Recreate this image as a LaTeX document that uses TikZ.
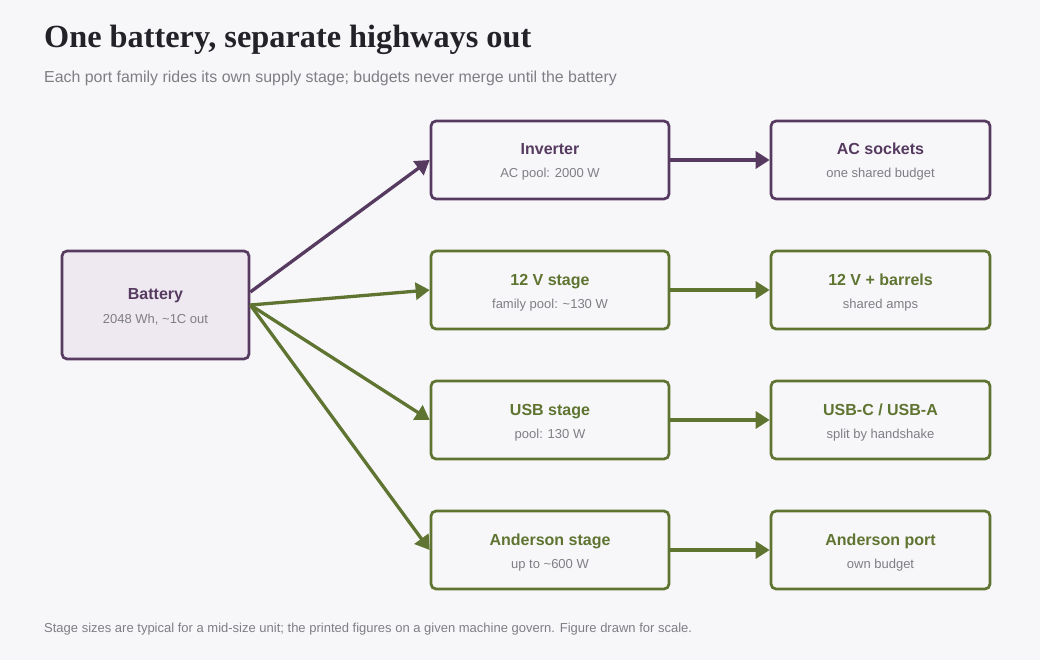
\documentclass[tikz,border=0pt]{standalone}
\usepackage{fontspec}
\setmainfont{Liberation Sans}
\newfontfamily\titlefont{Liberation Serif}
\usetikzlibrary{arrows.meta}
\definecolor{bg}{HTML}{F7F7FA}
\definecolor{purp}{HTML}{563A60}
\definecolor{grn}{HTML}{5F7430}
\definecolor{batfill}{HTML}{EEE8F0}
\definecolor{subgray}{HTML}{7E7E84}
\definecolor{titlecol}{HTML}{222228}
\tikzset{
  box/.style={draw, line width=2.7pt, rounded corners=5pt, fill=bg, minimum width=238pt, minimum height=78pt, inner sep=0pt},
  outbox/.style={box, minimum width=219pt},
  pbox/.style={draw=purp},
  gbox/.style={draw=grn},
  ttl/.style={anchor=base, font=\fontsize{16}{18}\selectfont\bfseries, inner sep=0pt},
  sub/.style={anchor=base, font=\fontsize{13}{15}\selectfont, text=subgray, inner sep=0pt},
  conn/.style={line width=3.3pt, -{Triangle[length=14pt,width=17pt]}},
}
\begin{document}
\begin{tikzpicture}[x=1pt,y=-1pt]
\useasboundingbox[fill=bg] (0,0) rectangle (1040,660);
\node[anchor=base west, inner sep=0pt, text=titlecol, font=\fontsize{32.3}{36}\selectfont\titlefont\bfseries] (title) at (44,48) {One battery, separate highways out};
\node[anchor=base west, inner sep=0pt, text=subgray, font=\fontsize{15.9}{18}\selectfont] (subtitle) at (44,83) {Each port family rides its own supply stage; budgets never merge until the battery};
\node[anchor=base west, inner sep=0pt, text=subgray, font=\fontsize{13}{15}\selectfont] (foot) at (44,632) {Stage sizes are typical for a mid-size unit; the printed figures on a given machine govern. Figure drawn for scale.};

\node[box, pbox, fill=batfill, minimum width=187pt, minimum height=108pt] (bat) at (155.5,305) {};
\node[box, pbox] (inv) at (550,160) {};
\node[outbox, pbox] (ac) at (880.5,160) {};
\node[box, gbox] (s12) at (550,290) {};
\node[outbox, gbox] (o12) at (880.5,290) {};
\node[box, gbox] (usb) at (550,420) {};
\node[outbox, gbox] (ousb) at (880.5,420) {};
\node[box, gbox] (and) at (550,550) {};
\node[outbox, gbox] (oand) at (880.5,550) {};

\node[ttl, text=purp] (bat-t) at ([yshift=6pt]bat.center) {Battery};
\node[sub] (bat-s) at ([yshift=-18pt]bat.center) {2048 Wh, \textasciitilde 1C out};
\node[ttl, text=purp] (inv-t) at ([yshift=5pt]inv.center) {Inverter};
\node[sub] (inv-s) at ([yshift=-18pt]inv.center) {AC pool: 2000 W};
\node[ttl, text=purp] (ac-t) at ([yshift=5pt]ac.center) {AC sockets};
\node[sub] (ac-s) at ([yshift=-18pt]ac.center) {one shared budget};
\node[ttl, text=grn] (s12-t) at ([yshift=5pt]s12.center) {12 V stage};
\node[sub] (s12-s) at ([yshift=-18pt]s12.center) {family pool: \textasciitilde 130 W};
\node[ttl, text=grn] (o12-t) at ([yshift=5pt]o12.center) {12 V + barrels};
\node[sub] (o12-s) at ([yshift=-18pt]o12.center) {shared amps};
\node[ttl, text=grn] (usb-t) at ([yshift=5pt]usb.center) {USB stage};
\node[sub] (usb-s) at ([yshift=-18pt]usb.center) {pool: 130 W};
\node[ttl, text=grn] (ousb-t) at ([yshift=5pt]ousb.center) {USB-C / USB-A};
\node[sub] (ousb-s) at ([yshift=-18pt]ousb.center) {split by handshake};
\node[ttl, text=grn] (and-t) at ([yshift=5pt]and.center) {Anderson stage};
\node[sub] (and-s) at ([yshift=-18pt]and.center) {up to \textasciitilde 600 W};
\node[ttl, text=grn] (oand-t) at ([yshift=5pt]oand.center) {Anderson port};
\node[sub] (oand-s) at ([yshift=-18pt]oand.center) {own budget};

\draw[conn, purp] ([yshift=13pt]bat.east) -- (inv.west);
\draw[conn, grn] (bat.east) -- (s12.west);
\draw[conn, grn] (bat.east) -- (usb.west);
\draw[conn, grn] (bat.east) -- (and.west);
\draw[conn, purp] (inv.east) -- (ac.west);
\draw[conn, grn] (s12.east) -- (o12.west);
\draw[conn, grn] (usb.east) -- (ousb.west);
\draw[conn, grn] (and.east) -- (oand.west);
\end{tikzpicture}
\end{document}
